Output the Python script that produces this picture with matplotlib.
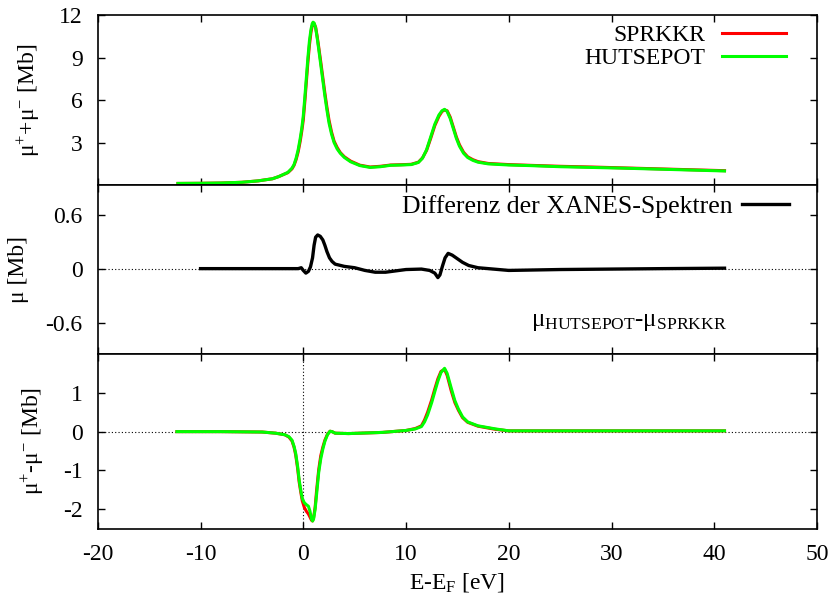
import numpy as np
from matplotlib import pyplot as plt

plt.rcParams['font.family'] = ['Liberation Serif', 'DejaVu Serif']
plt.rcParams['mathtext.fontset'] = 'custom'
plt.rcParams['mathtext.rm'] = 'Liberation Serif'
plt.rcParams['mathtext.it'] = 'Liberation Serif'
plt.rcParams['axes.unicode_minus'] = False
plt.rcParams['font.size'] = 17

# sum spectrum mu+ + mu- [Mb]
x_sum = [-12.2, -10, -8, -6, -4.4, -3, -2.4, -1.5, -1.1, -0.9, -0.7, -0.5, -0.3, -0.15,
         0.0, 0.15, 0.3, 0.45, 0.6, 0.75, 0.87, 0.95, 1.05, 1.2, 1.35, 1.5, 1.7, 1.9,
         2.1, 2.3, 2.5, 2.75, 3.0, 3.3, 3.6, 4.0, 4.6, 5.5, 6.5, 7.5, 8.5, 9.5, 10.5,
         11.2, 11.6, 12.0, 12.4, 12.8, 13.2, 13.5, 13.75, 14.0, 14.3, 14.6, 14.9, 15.2,
         15.6, 16.0, 16.5, 17.0, 18.0, 20, 22, 25, 28, 31, 35, 38, 41]
sum_hutsepot = [0.12, 0.13, 0.15, 0.2, 0.3, 0.45, 0.6, 0.9, 1.2, 1.45, 1.9, 2.5, 3.3, 4.0,
                4.9, 6.2, 7.6, 9.0, 10.2, 11.0, 11.4, 11.5, 11.45, 11.1, 10.4, 9.6, 8.5, 7.4,
                6.3, 5.3, 4.4, 3.6, 3.0, 2.55, 2.25, 1.95, 1.65, 1.38, 1.25, 1.3, 1.4, 1.42, 1.45,
                1.6, 1.9, 2.5, 3.4, 4.3, 4.95, 5.25, 5.35, 5.2, 4.7, 4.0, 3.3, 2.75,
                2.25, 1.95, 1.75, 1.62, 1.5, 1.42, 1.38, 1.3, 1.25, 1.2, 1.12, 1.06, 1.0]
sum_sprkkr = [0.12, 0.13, 0.15, 0.2, 0.3, 0.45, 0.6, 0.88, 1.15, 1.4, 1.8, 2.35, 3.1, 3.8,
              4.6, 5.9, 7.3, 8.7, 9.9, 10.8, 11.25, 11.4, 11.4, 11.15, 10.5, 9.75, 8.7, 7.6,
              6.5, 5.5, 4.6, 3.75, 3.1, 2.65, 2.3, 2.0, 1.7, 1.41, 1.28, 1.33, 1.42, 1.44, 1.47,
              1.62, 1.92, 2.45, 3.3, 4.2, 4.85, 5.2, 5.3, 5.25, 4.8, 4.1, 3.4, 2.85,
              2.32, 2.0, 1.8, 1.66, 1.53, 1.45, 1.4, 1.33, 1.28, 1.22, 1.14, 1.08, 1.02]

# difference mu(HUTSEPOT) - mu(SPRKKR) [Mb]
x_diff = [-10, -6, -2, -0.5, -0.2, 0.0, 0.25, 0.5, 0.7, 0.9, 1.05, 1.2, 1.4, 1.65, 1.9,
          2.1, 2.3, 2.55, 2.8, 3.1, 4.0, 5.0, 6.0, 7.0, 8.0, 9.0, 10.0, 11.5, 12.3, 12.8,
          13.1, 13.3, 13.55, 13.8, 14.1, 14.5, 15.0, 15.5, 16.1, 17.0, 18, 20, 25, 30, 35, 41]
diff = [0.0, 0.0, 0.0, 0.0, 0.01, -0.02, -0.05, -0.03, 0.02, 0.12, 0.26, 0.35, 0.375, 0.36,
        0.32, 0.26, 0.19, 0.12, 0.08, 0.05, 0.025, 0.01, -0.02, -0.04, -0.04, -0.025, -0.01,
        -0.005, -0.02, -0.05, -0.1, -0.07, 0.03, 0.12, 0.17, 0.15, 0.11, 0.07, 0.035, 0.01,
        0.0, -0.02, -0.01, -0.005, 0.0, 0.005]

# dichroic signal mu+ - mu- [Mb]
x_dich = [-12.3, -8, -4, -2.7, -1.8, -1.4, -1.1, -0.9, -0.74, -0.55, -0.4, -0.25, -0.1, 0.1,
          0.3, 0.5, 0.65, 0.8, 0.9, 1.0, 1.15, 1.3, 1.5, 1.7, 1.9, 2.1, 2.35, 2.6, 2.8, 3.1,
          4.4, 7.7, 10.0, 10.9, 11.5, 11.8, 12.1, 12.5, 12.8, 13.1, 13.4, 13.75, 14.0, 14.4,
          14.75, 15.1, 15.5, 16.0, 17.0, 18.7, 20, 25, 30, 35, 41]
dich_hutsepot = [0.0, 0.0, -0.01, -0.04, -0.08, -0.13, -0.22, -0.38, -0.56, -0.9, -1.25, -1.5,
                 -1.72, -1.83, -1.88, -1.92, -2.05, -2.25, -2.3, -2.25, -2.0, -1.6, -1.05, -0.7,
                 -0.45, -0.25, -0.08, 0.01, 0.0, -0.04, -0.05, -0.02, 0.03, 0.07, 0.13, 0.25,
                 0.43, 0.75, 1.03, 1.3, 1.52, 1.63, 1.5, 1.12, 0.8, 0.58, 0.38, 0.25, 0.15,
                 0.07, 0.02, 0.02, 0.02, 0.02, 0.02]
dich_sprkkr = [0.0, 0.0, -0.01, -0.04, -0.08, -0.14, -0.24, -0.4, -0.6, -0.95, -1.3, -1.55,
               -1.78, -1.95, -2.05, -2.12, -2.2, -2.28, -2.3, -2.22, -1.95, -1.5, -0.98, -0.62,
               -0.4, -0.22, -0.07, 0.01, 0.0, -0.04, -0.05, -0.02, 0.03, 0.08, 0.15, 0.3,
               0.5, 0.82, 1.1, 1.36, 1.55, 1.6, 1.45, 1.05, 0.75, 0.55, 0.36, 0.24, 0.14,
               0.06, 0.02, 0.02, 0.02, 0.02, 0.02]

fig = plt.figure(figsize=(8.29, 6.05), dpi=100)
left, right = 0.118, 0.9855
ax1 = fig.add_axes([left, 0.694, right - left, 0.281])
ax2 = fig.add_axes([left, 0.415, right - left, 0.279], sharex=ax1)
ax3 = fig.add_axes([left, 0.126, right - left, 0.289], sharex=ax1)

for ax in (ax1, ax2, ax3):
    ax.tick_params(direction='in', top=True, right=True, length=5, width=1, pad=11)
    for s in ax.spines.values():
        s.set_linewidth(1.2)

ax1.plot(x_sum, sum_sprkkr, color='#ff0000', lw=2.2, label='SPRKKR')
ax1.plot(x_sum, sum_hutsepot, color='#00ff00', lw=2.2, label='HUTSEPOT')
ax1.set_ylim(0, 12)
ax1.set_yticks([3, 6, 9, 12])
ax1.set_ylabel('μ$^{+}$+μ$^{-}$ [Mb]', labelpad=12)
ax1.legend(loc='upper right', frameon=False, markerfirst=False, handlelength=2.7,
           borderaxespad=0.2, borderpad=0.2, labelspacing=0.05, handletextpad=0.7,
           bbox_to_anchor=(0.97, 1.0))
ax1.tick_params(labelbottom=False)

ax2.axhline(0, color='black', lw=0.8, ls=(0, (1, 2)))
ax2.plot(x_diff, diff, color='black', lw=2.4, label='Differenz der XANES-Spektren')
ax2.set_ylim(-0.95, 0.93)
ax2.set_yticks([-0.6, 0, 0.6])
ax2.set_yticklabels(['-0.6', '0', '0.6'])
ax2.set_ylabel('μ [Mb]', labelpad=12)
ax2.legend(loc='upper right', frameon=False, markerfirst=False, handlelength=1.8,
           borderaxespad=0.2, borderpad=0.2, handletextpad=0.4, fontsize=18.5,
           bbox_to_anchor=(0.975, 1.0))
ax2.text(0.738, 0.19, 'μ$_{\\rm HUTSEPOT}$-μ$_{\\rm SPRKKR}$', transform=ax2.transAxes,
         ha='center', va='center', fontsize=18)
ax2.tick_params(labelbottom=False)

ax3.axhline(0, color='black', lw=0.8, ls=(0, (1, 2)))
ax3.axvline(0, color='black', lw=0.8, ls=(0, (1, 2)))
ax3.plot(x_dich, dich_sprkkr, color='#ff0000', lw=2.2)
ax3.plot(x_dich, dich_hutsepot, color='#00ff00', lw=2.2)
ax3.set_ylim(-2.5, 2.0)
ax3.set_yticks([-2, -1, 0, 1])
ax3.set_ylabel('μ$^{+}$-μ$^{-}$ [Mb]', labelpad=12)
ax3.set_xlim(-20, 50)
ax3.set_xticks(range(-20, 51, 10))
ax3.set_xlabel('E-E$_{\\rm F}$ [eV]')

fig.align_ylabels([ax1, ax2, ax3])
fig.savefig('out.png', dpi=100)
